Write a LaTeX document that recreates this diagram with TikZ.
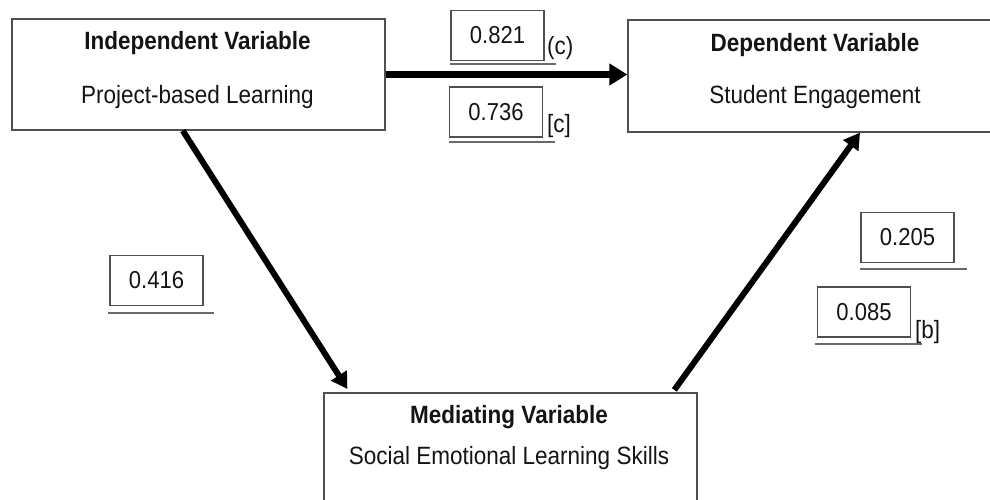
\documentclass[tikz,border=0pt]{standalone}
\usepackage{fontspec}
\setmainfont{Liberation Sans}[FakeStretch=0.9]
\usetikzlibrary{arrows.meta,calc}
\definecolor{boxgray}{HTML}{505050}
\definecolor{linegray}{HTML}{6A6A6A}
\definecolor{ink}{HTML}{141414}
\tikzset{
  varbox/.style={draw=boxgray,line width=1.3pt,rectangle,inner sep=0pt},
  numbox/.style={draw=boxgray,line width=1.2pt,rectangle,inner sep=0pt,minimum width=93pt,minimum height=50pt,font=\fontsize{24.5}{28}\selectfont,text=ink},
  vtitle/.style={font=\fontsize{25}{29}\selectfont\bfseries,text=ink,inner sep=0pt},
  vtext/.style={font=\fontsize{25}{29}\selectfont,text=ink,inner sep=0pt},
  tag/.style={font=\fontsize{25}{29}\selectfont,text=ink,inner sep=0pt,anchor=base west},
  uline/.style={draw=linegray,line width=1.6pt},
  bigarrow/.style={draw=black,line width=6.5pt,-{Triangle[length=18pt,width=21pt]}},
  diagarrow/.style={draw=black,line width=6pt,-{Triangle[length=16pt,width=18pt]}}
}
\begin{document}
\begin{tikzpicture}[x=1pt,y=-1pt]
\useasboundingbox (0,0) rectangle (990,500);
\clip (0,0) rectangle (990,500);
% variable boxes
\node[varbox,minimum width=373pt,minimum height=111pt] (iv) at (198.5,74.5) {};
\node[varbox,minimum width=374pt,minimum height=112pt] (dv) at (815,76) {};
\node[varbox,minimum width=373pt,minimum height=117pt] (mv) at (510.5,451.5) {};
\node[vtitle] (ivt) at (197.5,43) {Independent Variable};
\node[vtext] (ivs) at (197.5,97) {Project-based Learning};
\node[vtitle] (dvt) at (815,45) {Dependent Variable};
\node[vtext] (dvs) at (815,97) {Student Engagement};
\node[vtitle] (mvt) at (509,417) {Mediating Variable};
\node[vtext] (mvs) at (509,458) {Social Emotional Learning Skills};
% coefficient boxes
\node[numbox] (c1) at (497.5,35.5) {0.821};
\node[numbox] (c2) at (496,112) {0.736};
\node[numbox] (a1) at (156.5,280.5) {0.416};
\node[numbox] (b1) at (907.5,237.5) {0.205};
\node[numbox] (b2) at (864,312) {0.085};
\node[tag] (c1t) at (547,55) {(c)};
\node[tag] (c2t) at (547,132) {[c]};
\node[tag] (b2t) at (915,338) {[b]};
% underlines
\coordinate (u1a) at (450,64);  \coordinate (u1b) at (556,64);
\coordinate (u2a) at (449,142); \coordinate (u2b) at (555,142);
\coordinate (u3a) at (108,313); \coordinate (u3b) at (214,313);
\coordinate (u4a) at (860,269); \coordinate (u4b) at (967,269);
\coordinate (u5a) at (815,344); \coordinate (u5b) at (922,344);
\draw[uline] (u1a) -- (u1b);
\draw[uline] (u2a) -- (u2b);
\draw[uline] (u3a) -- (u3b);
\draw[uline] (u4a) -- (u4b);
\draw[uline] (u5a) -- (u5b);
% arrows
\draw[bigarrow] (iv.east) -- (iv.east -| dv.west);
\draw[diagarrow,shorten >=4pt] ($(iv.south west)!0.458!(iv.south east)$) -- ($(mv.north west)!0.07!(mv.north east)$);
\draw[diagarrow,shorten <=3pt] ($(mv.north west)!0.933!(mv.north east)$) -- ($(dv.south west)!0.62!(dv.south east)$);
\end{tikzpicture}
\end{document}
